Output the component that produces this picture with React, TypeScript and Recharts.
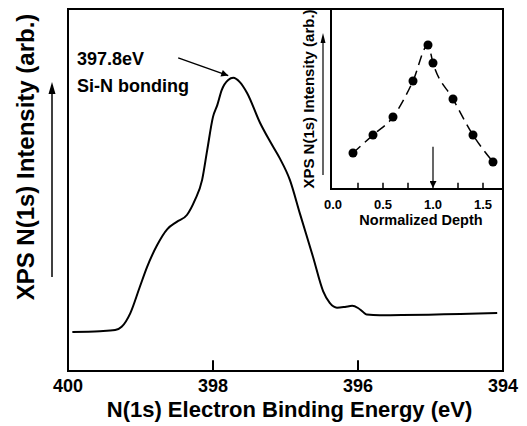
import React from 'react';
import { LineChart, Line, XAxis, YAxis, ReferenceArea, ReferenceLine } from 'recharts';

const FONT = '"Liberation Sans", Arial, sans-serif';

// main spectrum: binding energy (eV) vs intensity (arb., 0..100)
const energy = [
  399.94, 399.56, 399.35, 399.26, 399.14, 399.01, 398.91, 398.77, 398.63, 398.5,
  398.36, 398.25, 398.15, 398.08, 398.0, 397.94, 397.88, 397.79, 397.72, 397.63,
  397.53, 397.35, 397.21, 397.08, 396.94, 396.8, 396.62, 396.48, 396.39, 396.29,
  396.18, 396.08, 396.0, 395.93, 395.88, 395.7, 394.08,
];
const intensity = [
  10.8, 11.0, 11.3, 12.2, 16.0, 23.2, 28.7, 34.8, 39.2, 41.2,
  43.1, 47.2, 52.8, 61.0, 70.2, 73.5, 77.6, 80.4, 81.0, 79.8,
  76.8, 68.5, 63.3, 58.8, 52.8, 43.4, 31.5, 22.0, 18.8, 17.5,
  17.7, 18.0, 17.4, 16.3, 15.6, 15.4, 16.0,
];
const energyTicks = [400, 398, 396, 394];
const energyInnerTicks = [398, 396];

// inset: normalized depth vs intensity (arb., 0..10)
const depth = [0.2, 0.4, 0.6, 0.8, 0.95, 1.0, 1.2, 1.4, 1.6];
const depthIntensity = [2, 3, 4, 6, 8, 7, 5, 3, 1.5];
const depthTicks = [0, 0.5, 1.0, 1.5];
const depthInnerTicks = [0.25, 0.5, 0.75, 1.25, 1.5];

const mainData = energy.map((e, i) => ({ e, v: intensity[i] }));
const insetData = depth.map((d, i) => ({ d, v: depthIntensity[i] }));

const tickStyle = { fill: '#000', fontSize: 18, fontWeight: 'bold', fontFamily: FONT };

export default function App() {
  return (
    <div style={{ position: 'absolute', left: 0, top: 0, width: 527, height: 426, background: '#fff' }}>
      <svg width={0} height={0} style={{ position: 'absolute' }}>
        <defs>
          <marker id="arrowHead" viewBox="0 0 10 10" refX="10" refY="5" markerWidth="11" markerHeight="7"
            markerUnits="userSpaceOnUse" orient="auto">
            <path d="M0,0 L10,5 L0,10 z" fill="#000" />
          </marker>
        </defs>
      </svg>

      {/* ─── main spectrum ─── */}
      <div style={{ position: 'absolute', left: 0, top: 0 }}>
        <LineChart width={527} height={426} data={mainData} margin={{ top: 9, right: 24, bottom: 0, left: 68 }}>
          <XAxis
            dataKey="e"
            type="number"
            domain={[394, 400]}
            reversed
            allowDataOverflow
            ticks={energyTicks}
            interval={0}
            height={55}
            axisLine={false}
            tickLine={false}
            tick={tickStyle}
            label={{
              value: 'N(1s) Electron Binding Energy (eV)',
              position: 'insideBottom',
              offset: 9,
              dx: 4,
              style: { fill: '#000', fontSize: 22, fontWeight: 'bold', fontFamily: FONT },
            }}
          />
          <YAxis type="number" domain={[0, 100]} hide allowDataOverflow />
          <ReferenceArea x1={400} x2={394} y1={0} y2={100} fill="none" stroke="#000" strokeWidth={2} />
          {energyInnerTicks.map(t => (
            <ReferenceLine key={t} segment={[{ x: t, y: 0 }, { x: t, y: 3 }]} stroke="#000" strokeWidth={2} />
          ))}
          <ReferenceLine
            segment={[{ x: 398.48, y: 86.5 }, { x: 397.79, y: 81.6 }]}
            stroke="#000"
            strokeWidth={1.5}
            markerEnd="url(#arrowHead)"
          />
          <Line type="monotone" dataKey="v" stroke="#000" strokeWidth={2} dot={false} isAnimationActive={false} />
        </LineChart>
      </div>

      {/* ─── inset: depth profile ─── */}
      <div style={{ position: 'absolute', left: 290, top: 0 }}>
        <LineChart width={237} height={240} data={insetData} margin={{ top: 9, right: 24, bottom: 0, left: 41 }}>
          <XAxis
            dataKey="d"
            type="number"
            domain={[-0.02, 1.7]}
            allowDataOverflow
            ticks={depthTicks}
            interval={0}
            height={51}
            axisLine={false}
            tickLine={false}
            tickMargin={5}
            tickFormatter={v => v.toFixed(1)}
            tick={{ fill: '#000', fontSize: 13, fontWeight: 'bold', fontFamily: FONT }}
            label={{
              value: 'Normalized Depth',
              position: 'insideBottom',
              offset: 15,
              dx: 4,
              style: { fill: '#000', fontSize: 14.5, fontWeight: 'bold', fontFamily: FONT },
            }}
          />
          <YAxis type="number" domain={[0, 10]} hide allowDataOverflow />
          <ReferenceArea x1={-0.02} x2={1.7} y1={0} y2={10} fill="none" stroke="#000" strokeWidth={2} />
          {depthInnerTicks.map(t => (
            <ReferenceLine key={t} segment={[{ x: t, y: 0 }, { x: t, y: 0.35 }]} stroke="#000" strokeWidth={1.5} />
          ))}
          <ReferenceLine
            segment={[{ x: 1.0, y: 2.35 }, { x: 1.0, y: 0.05 }]}
            stroke="#000"
            strokeWidth={1.2}
            markerEnd="url(#arrowHead)"
          />
          <Line
            type="monotone"
            dataKey="v"
            stroke="#000"
            strokeWidth={1.5}
            strokeDasharray="10 6"
            dot={{ r: 4.5, fill: '#000', stroke: '#000', strokeWidth: 0 }}
            isAnimationActive={false}
          />
        </LineChart>
      </div>

      {/* ─── axis titles, arrows, annotation ─── */}
      <svg width={527} height={426} style={{ position: 'absolute', left: 0, top: 0, pointerEvents: 'none' }}
        fontFamily={FONT} fontWeight="bold">
        <text transform="translate(25,157) rotate(-90)" textAnchor="middle" dominantBaseline="central" fontSize={24}>
          XPS N(1s) Intensity (arb.)
        </text>
        <line x1={52} y1={277} x2={52} y2={90} stroke="#000" strokeWidth={1.5} />
        <polygon points="52,82 48.5,94 55.5,94" fill="#000" />

        <text transform="translate(308,99) rotate(-90)" textAnchor="middle" dominantBaseline="central" fontSize={15}>
          XPS N(1s) Intensity (arb.)
        </text>
        <line x1={323} y1={175} x2={323} y2={40} stroke="#000" strokeWidth={1.2} />
        <polygon points="323,33 320.5,43 325.5,43" fill="#000" />

        <text x={77} y={64.5} fontSize={18}>397.8eV</text>
        <text x={77} y={91.5} fontSize={18}>Si-N bonding</text>
      </svg>
    </div>
  );
}
